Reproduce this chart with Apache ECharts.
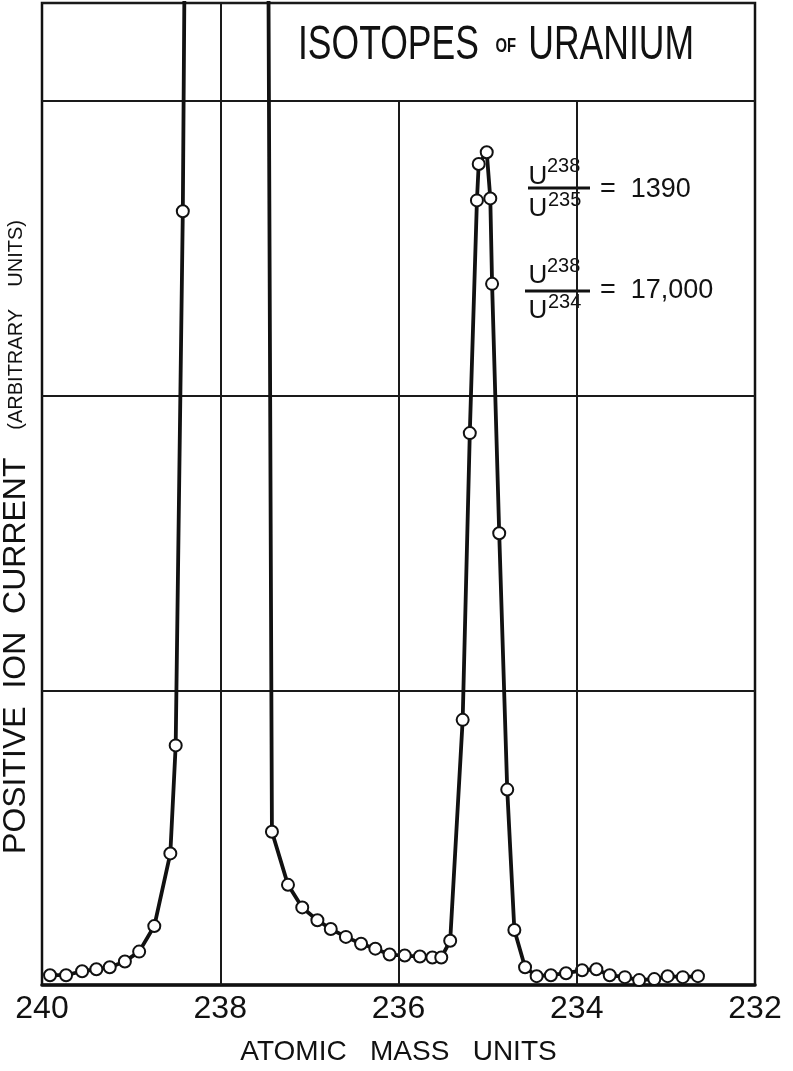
<!DOCTYPE html>
<html>
<head>
<meta charset="UTF-8">
<title>Isotopes of Uranium</title>
<script src="https://cdn.jsdelivr.net/npm/echarts@6/dist/echarts.min.js"></script>
<style>
  html, body { margin: 0; padding: 0; background: #fff; }
  #chart { width: 793px; height: 1071px; }
</style>
</head>
<body>
<div id="chart"></div>
<script>
// atomic mass (x) and positive ion current, arbitrary units (y)
// the 238 peak runs off the top of the sheet, two points above yMax stand for that
var massUnits = [
  239.91, 239.73, 239.55, 239.39, 239.24, 239.07, 238.91, 238.74, 238.56, 238.50, 238.42, 238.40,
  237.46, 237.42, 237.24, 237.08, 236.91, 236.76, 236.59, 236.42, 236.26, 236.10, 235.93, 235.76,
  235.62, 235.52, 235.42, 235.28, 235.20, 235.12, 235.10, 235.01, 234.97, 234.95, 234.87, 234.78,
  234.70, 234.58, 234.45, 234.29, 234.12, 233.94, 233.78, 233.63, 233.46, 233.30, 233.13, 232.98,
  232.81, 232.64
];
var ionCurrent = [
  0.10, 0.10, 0.14, 0.16, 0.18, 0.24, 0.34, 0.60, 1.34, 2.44, 7.88, 10.4,
  10.4, 1.56, 1.02, 0.79, 0.66, 0.57, 0.49, 0.42, 0.37, 0.31, 0.30, 0.29,
  0.28, 0.28, 0.45, 2.70, 5.62, 7.99, 8.36, 8.48, 8.01, 7.14, 4.60, 1.99,
  0.56, 0.18, 0.09, 0.10, 0.12, 0.15, 0.16, 0.10, 0.08, 0.05, 0.06, 0.09,
  0.08, 0.09
];
var xMin = 232, xMax = 240, xStep = 2;
var yMax = 10, yStep = 3;
// vertical rulings and how high each one goes
var gridMass = [238, 236, 234];
var gridTop = [10, 9, 9];

var chart = echarts.init(document.getElementById('chart'));

var pts = [];
for (var i = 0; i < massUnits.length; i++) {
  var p = { value: [massUnits[i], ionCurrent[i]] };
  if (ionCurrent[i] > yMax) p.symbol = 'none';
  pts.push(p);
}
var rulings = [];
for (var j = 0; j < gridMass.length; j++) {
  rulings.push([{ coord: [gridMass[j], 0] }, { coord: [gridMass[j], gridTop[j]] }]);
}

var font = 'Liberation Sans, Arial, sans-serif';
var ink = '#111';

function txt(x, y, s, size, align) {
  return {
    type: 'text', x: x, y: y,
    style: { text: s, fontSize: size, fontFamily: font, fill: ink, textAlign: align || 'left', textVerticalAlign: 'middle' }
  };
}

var option = {
  animation: false,
  backgroundColor: '#fff',
  grid: {
    left: 42, right: 38, top: 3, bottom: 75,
    show: true, borderColor: ink, borderWidth: 2.5
  },
  xAxis: {
    type: 'value',
    min: xMin, max: xMax, interval: xStep,
    inverse: true,
    axisLine: { lineStyle: { color: ink, width: 3.5 } },
    axisTick: { show: false },
    splitLine: { show: false },
    axisLabel: { color: ink, fontSize: 32, fontFamily: font, margin: 8 },
    name: 'ATOMIC   MASS   UNITS',
    nameLocation: 'middle',
    nameGap: 53,
    nameTextStyle: { color: ink, fontSize: 28, fontFamily: font }
  },
  yAxis: {
    type: 'value',
    min: 0, max: yMax, interval: yStep,
    axisLine: { show: false },
    axisTick: { show: false },
    axisLabel: { show: false },
    splitLine: { lineStyle: { color: '#1a1a1a', width: 2 } }
  },
  series: [{
    type: 'line',
    data: pts,
    clip: true,
    symbol: 'emptyCircle',
    symbolSize: 12,
    lineStyle: { color: ink, width: 3.8 },
    itemStyle: { color: ink, borderColor: ink, borderWidth: 2.8 },
    markLine: {
      silent: true,
      symbol: 'none',
      label: { show: false },
      lineStyle: { color: '#1a1a1a', width: 2, type: 'solid' },
      data: rulings
    }
  }],
  graphic: [
    {
      type: 'text', x: 496, y: 46, scaleX: 0.74,
      style: {
        text: '{b|ISOTOPES}{s|    OF   }{b|URANIUM}',
        textAlign: 'center', textVerticalAlign: 'middle',
        fill: ink,
        rich: {
          b: { fontSize: 48, fontFamily: font, fill: ink },
          s: { fontSize: 20, fontWeight: 'bold', fontFamily: font, fill: ink }
        }
      }
    },
    {
      type: 'text', x: 16, y: 537, rotation: Math.PI / 2,
      style: {
        text: '{b|POSITIVE  ION  CURRENT}{s|     (ARBITRARY    UNITS)}',
        textAlign: 'center', textVerticalAlign: 'middle',
        fill: ink,
        rich: {
          b: { fontSize: 32, fontFamily: font, fill: ink },
          s: { fontSize: 20, fontFamily: font, fill: ink }
        }
      }
    },
    // ratio U238/U235
    txt(538, 177, 'U', 26, 'center'),
    txt(547, 166, '238', 20),
    { type: 'line', shape: { x1: 528, y1: 188, x2: 590, y2: 188 }, style: { stroke: ink, lineWidth: 2.8 } },
    txt(538, 209, 'U', 26, 'center'),
    txt(548, 200, '235', 20),
    txt(600, 190, '=  1390', 27),
    // ratio U238/U234
    txt(538, 276, 'U', 26, 'center'),
    txt(547, 266, '238', 20),
    { type: 'line', shape: { x1: 525, y1: 291, x2: 590, y2: 291 }, style: { stroke: ink, lineWidth: 2.8 } },
    txt(538, 311, 'U', 26, 'center'),
    txt(548, 302, '234', 20),
    txt(600, 291, '=  17,000', 27)
  ]
};
chart.setOption(option);
</script>
</body>
</html>
